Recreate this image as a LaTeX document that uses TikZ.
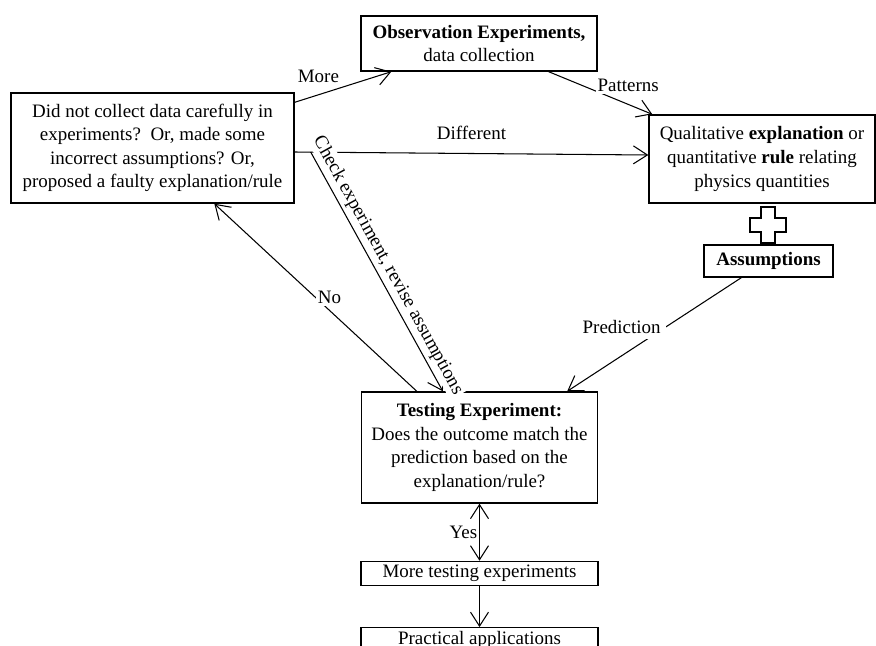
\documentclass[tikz,border=0pt]{standalone}
\usepackage{fontspec}
\setmainfont{Liberation Serif}
\usetikzlibrary{arrows.meta, positioning, calc}

\begin{document}
\begin{tikzpicture}[
    x=0.02cm, y=-0.02cm,
    box/.style={draw, line width=0.8pt, align=center, inner sep=1pt, font=\fontsize{10.8}{13.4}\selectfont},
    link/.style={-{Straight Barb[length=2.8mm, width=3.6mm]}, line width=0.6pt},
    tag/.style={font=\fontsize{10.8}{13.4}\selectfont, fill=white, inner sep=1pt},
    plus/.style={draw, line width=1.4pt, line join=miter}
  ]
    \useasboundingbox (0,0) rectangle (876,646);

    % boxes
    \node[box, minimum width=4.72cm, minimum height=1.10cm] (obs) at (479,43.5)
      {\textbf{Observation Experiments,}\\data collection};
    \node[box, minimum width=5.66cm, minimum height=2.20cm] (err) at (152.5,148)
      {Did not collect data carefully in\\experiments?\ \ Or, made some\\incorrect assumptions? Or,\\proposed a faulty explanation/rule};
    \node[box, minimum width=4.52cm, minimum height=1.76cm] (qual) at (762,159)
      {Qualitative \textbf{explanation} or\\quantitative \textbf{rule} relating\\physics quantities};
    \node[box, minimum width=2.58cm, minimum height=0.64cm] (assum) at (768.5,261)
      {\textbf{Assumptions}};
    \node[box, minimum width=4.72cm, minimum height=2.22cm] (test) at (479.5,447.5)
      {\textbf{Testing Experiment:}\\Does the outcome match the\\prediction based on the\\explanation/rule?};
    \node[box, minimum width=4.74cm, minimum height=0.48cm, below=1.14cm of test] (more)
      {More testing experiments};
    \node[box, minimum width=4.74cm, minimum height=0.48cm, below=0.82cm of more] (prac)
      {Practical applications};

    % plus sign between explanation and assumptions
    \coordinate (cross) at (768,225);
    \draw[plus] (cross) ++(-7,-18) -- ++(14,0) -- ++(0,11) -- ++(11,0) -- ++(0,14)
      -- ++(-11,0) -- ++(0,11) -- ++(-14,0) -- ++(0,-11) -- ++(-11,0) -- ++(0,-14)
      -- ++(11,0) -- cycle;

    % connectors
    \draw[link] ($(err.north east)+(0,10)$) -- node[pos=0.5, above left, inner sep=2pt, font=\fontsize{10.8}{13.4}\selectfont]{More} ($(obs.south west)+(31,0)$);
    \draw[link] ($(obs.south east)+(-49,0)$) -- node[tag, pos=0.45, anchor=west, yshift=0.1cm]{Patterns} ($(qual.north west)+(4,0)$);
    \draw[link] ($(err.east)+(0,4)$) -- node[above=4pt, font=\fontsize{10.8}{13.4}\selectfont]{Different} ($(qual.west)+(0,-4)$);
    \coordinate (split) at ($(err.east)+(16,4)$);
    \draw[link] (split) -- node[tag, sloped, above=1pt, pos=0.5]{Check experiment, revise assumptions} ($(test.north west)+(82,0)$);
    \draw[link] ($(test.north west)+(56,0)$) -- node[tag, pos=0.5, right]{No} ($(err.south west)+(204,0)$);
    \draw[link] ($(assum.south west)+(38,0)$) -- node[tag, pos=0.43, left, inner sep=3pt]{Prediction} ($(test.north east)+(-31,0)$);
    \draw[link, {Straight Barb[length=2.8mm, width=3.6mm]}-{Straight Barb[length=2.8mm, width=3.6mm]}] (test.south) -- node[left, inner sep=1pt, font=\fontsize{10.8}{13.4}\selectfont]{Yes} (more.north);
    \draw[link] (more) -- (prac);
  \end{tikzpicture}
\end{document}
